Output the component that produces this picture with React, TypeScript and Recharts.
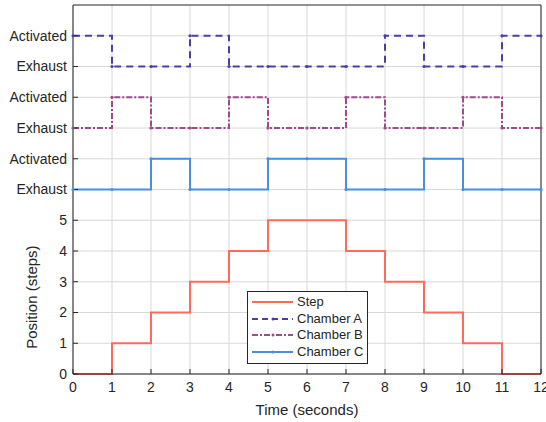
import React from 'react';
import { LineChart, Line, XAxis, YAxis, CartesianGrid } from 'recharts';

const times = [0, 1, 2, 3, 4, 5, 6, 7, 8, 9, 10, 11, 12];
const stepPos = [0, 1, 2, 3, 4, 5, 5, 4, 3, 2, 1, 0, 0];
// chamber states: 1 = Activated, 0 = Exhaust
const chamberA = [1, 0, 0, 1, 0, 0, 0, 0, 1, 0, 0, 1, 1];
const chamberB = [0, 1, 0, 0, 1, 0, 0, 1, 0, 0, 1, 0, 0];
const chamberC = [0, 0, 1, 0, 0, 1, 1, 0, 0, 1, 0, 0, 0];
const yTickValues = [0, 1, 2, 3, 4, 5, 6, 7, 8, 9, 10, 11];
const yTickLabels = ['0', '1', '2', '3', '4', '5', 'Exhaust', 'Activated', 'Exhaust', 'Activated', 'Exhaust', 'Activated'];
const xTicks = [0, 1, 2, 3, 4, 5, 6, 7, 8, 9, 10, 11, 12];

const COLORS = { step: '#FF6B5B', a: '#4B3FA6', b: '#9A4C8C', c: '#4A8FDF' };
const baseA = 10, baseB = 8, baseC = 6;

const data = times.map((t, i) => ({
  t,
  step: stepPos[i],
  a: baseA + chamberA[i],
  b: baseB + chamberB[i],
  c: baseC + chamberC[i],
}));

const FONT = 'Liberation Sans, Arial, Helvetica, sans-serif';
const TXT = '#262626';

const legendItems = [
  { name: 'Step', color: COLORS.step, dash: undefined as string | undefined, dot: false },
  { name: 'Chamber A', color: COLORS.a, dash: '6 4', dot: true },
  { name: 'Chamber B', color: COLORS.b, dash: '6 2 2 2', dot: true },
  { name: 'Chamber C', color: COLORS.c, dash: undefined, dot: true },
];

const LegendBox = () => (
  <div style={{ position: 'absolute', left: 247, top: 291, border: '1px solid #262626', background: '#fff', width: 121, height: 73, boxSizing: 'border-box', padding: '2px 0 0 3px', fontFamily: FONT, fontSize: 13, color: TXT, whiteSpace: 'nowrap' }}>
    {legendItems.map((it) => (
      <div key={it.name} style={{ display: 'flex', alignItems: 'center', height: 16.6 }}>
        <svg width={43} height={10} style={{ marginRight: 3, flex: 'none' }}>
          <line x1={1} y1={5} x2={42} y2={5} stroke={it.color} strokeWidth={2} strokeDasharray={it.dash} />
          {it.dot && <circle cx={22} cy={5} r={1.5} fill={it.color} />}
        </svg>
        <span style={{ lineHeight: '16px' }}>{it.name}</span>
      </div>
    ))}
  </div>
);

const YLabel = (props: any) => {
  const vb = props.viewBox || {};
  const x = 33;
  const y = (vb.y ?? 5) + (vb.height ?? 369) * (1 - 2.5 / 12);
  return (
    <text x={x} y={y} transform={`rotate(-90 ${x} ${y})`} textAnchor="middle" dominantBaseline="middle" fontFamily={FONT} fontSize={15} fill={TXT}>
      Position (steps)
    </text>
  );
};

const smallDot = (color: string) => (p: any) => (
  <circle key={`${p.index}`} cx={p.cx} cy={p.cy} r={1.6} fill={color} />
);

export default function App() {
  const tickStyle = { fontFamily: FONT, fontSize: 14, fill: TXT };
  return (
    <div style={{ position: 'absolute', left: 0, top: 0, width: 546, height: 422, background: '#fff' }}>
      <LineChart width={546} height={422} data={data} margin={{ top: 0, right: 0, bottom: 0, left: 0 }}>
        <CartesianGrid stroke="#d8d8d8" strokeWidth={1} horizontalValues={yTickValues} verticalValues={xTicks} />
        <XAxis
          dataKey="t"
          type="number"
          domain={[0, 12]}
          ticks={xTicks}
          interval={0}
          height={48}
          stroke={TXT}
          tickSize={-5}
          tickMargin={13}
          tick={tickStyle}
          label={{ value: 'Time (seconds)', position: 'insideBottom', offset: 7, fontFamily: FONT, fontSize: 15, fill: TXT }}
        />
        <XAxis
          xAxisId="top"
          orientation="top"
          dataKey="t"
          type="number"
          domain={[0, 12]}
          ticks={xTicks}
          interval={0}
          height={5}
          stroke={TXT}
          tickSize={-5}
          tick={false}
        />
        <YAxis
          type="number"
          domain={[0, 12]}
          ticks={yTickValues}
          interval={0}
          width={73}
          stroke={TXT}
          tickSize={-5}
          tickMargin={11}
          tick={tickStyle}
          tickFormatter={(v: number) => yTickLabels[v] ?? ''}
          label={<YLabel />}
        />
        <YAxis
          yAxisId="right"
          orientation="right"
          type="number"
          domain={[0, 12]}
          ticks={yTickValues}
          interval={0}
          width={5}
          stroke={TXT}
          tickSize={-5}
          tick={false}
        />
        <Line type="stepAfter" dataKey="step" stroke={COLORS.step} strokeWidth={2} dot={false} isAnimationActive={false} />
        <Line type="stepAfter" dataKey="a" stroke={COLORS.a} strokeWidth={2} strokeDasharray="7 5" dot={smallDot(COLORS.a)} isAnimationActive={false} />
        <Line type="stepAfter" dataKey="b" stroke={COLORS.b} strokeWidth={2} strokeDasharray="6 2 2 2" dot={smallDot(COLORS.b)} isAnimationActive={false} />
        <Line type="stepAfter" dataKey="c" stroke={COLORS.c} strokeWidth={2} dot={smallDot(COLORS.c)} isAnimationActive={false} />
      </LineChart>
      <LegendBox />
    </div>
  );
}
